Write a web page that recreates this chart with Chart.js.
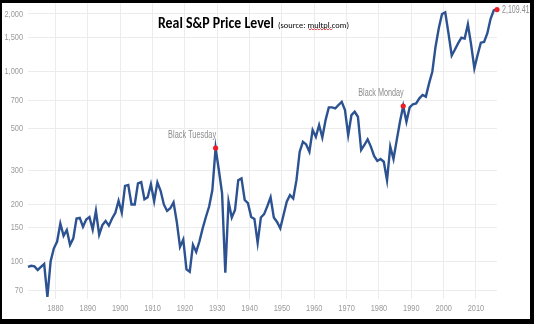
<!DOCTYPE html>
<html>
<head>
<meta charset="utf-8">
<script src="https://cdn.jsdelivr.net/npm/chart.js@4.4.1/dist/chart.umd.min.js"></script>
<style>
  html, body { margin: 0; padding: 0; background: #fff; }
  canvas { display: block; }
</style>
</head>
<body>
<canvas id="c" width="534" height="324"></canvas>
<script>
// ---- data ----
const years = [];
for (let y = 1871; y <= 2016; y++) years.push(y);

const realPrice = [
  93.5, 94.6, 94, 90, 93.5, 96.7, 65, 100, 117,            // 1871-1879
  127, 158, 136, 146, 122, 132, 168, 169, 152, 166,        // 1880-1889
  171, 147, 184, 138, 155, 163, 154, 168, 180, 208,        // 1890-1899
  180, 249, 252, 199, 199, 257, 261, 212, 217, 254,        // 1900-1909
  207, 260, 235, 199, 184, 190, 204, 161, 119, 130,        // 1910-1919
  90.6, 88, 122, 112, 127, 149, 171, 194, 237, 394,        // 1920-1929
  302, 228, 87, 206, 170, 186, 267, 273, 210, 202,         // 1930-1939
  171, 167, 125, 170, 177, 195, 217, 170, 161, 149,        // 1940-1949
  175, 206, 223, 214, 267, 377, 425, 412, 377, 490,        // 1950-1959
  452, 521, 448, 553, 645, 645, 638, 664, 690, 625,        // 1960-1969
  461, 588, 612, 576, 385, 409, 438, 401, 358, 337,        // 1970-1979
  345, 334, 267, 401, 345, 434, 542, 656, 542, 645,        // 1980-1989
  670, 677, 720, 750, 735, 863, 994, 1346, 1683, 2000,     // 1990-1999
  2040, 1582, 1210, 1300, 1405, 1500, 1485, 1765, 1380, 1036, // 2000-2009
  1216, 1413, 1425, 1580, 1880, 2090, 2109.41              // 2010-2016
];

const xTicks = [1880, 1890, 1900, 1910, 1920, 1930, 1940, 1950, 1960, 1970, 1980, 1990, 2000, 2010];
const yTicks = [70, 100, 150, 200, 300, 500, 700, 1000, 1500, 2000];

const markerYears = [1929, 1987, 2016];
const markerLabels = ['Black Tuesday', 'Black Monday', '2,109.41'];

const titleMain = 'Real S&P Price Level';
const titleSource = '(source: multpl.com)';

// ---- chart ----
const LINE = '#2c5291';
const GRID = '#ececec';
const TICKC = '#9a9a9a';
const SANS = "'Liberation Sans', Arial, Helvetica, sans-serif";
const TICK_SQUEEZE = 0.78; // the reference's text is horizontally condensed

function scaledText(ctx, text, x, y, font, color, align, targetW) {
  ctx.save();
  ctx.font = font;
  ctx.fillStyle = color;
  ctx.textBaseline = 'alphabetic';
  ctx.textAlign = 'left';
  const w = ctx.measureText(text).width;
  const sx = targetW / w;
  let left = x;
  if (align === 'right') left = x - targetW;
  if (align === 'center') left = x - targetW / 2;
  ctx.translate(left, y);
  ctx.scale(sx, 1);
  ctx.fillText(text, 0, 0);
  ctx.restore();
}

// draw axis tick labels (rendered by Chart.js) horizontally condensed around their anchor
const condenseTicks = {
  id: 'condenseTicks',
  afterLayout(chart) {
    Object.values(chart.scales).forEach(scale => {
      if (scale._condensed) return;
      scale._condensed = true;
      const orig = scale.drawLabels;
      scale.drawLabels = function (area) {
        const ctx = this.ctx;
        const origFill = ctx.fillText;
        ctx.fillText = function (t, x, y, mw) {
          this.save();
          this.translate(x, y);
          this.scale(TICK_SQUEEZE, 1);
          origFill.call(this, t, 0, 0);
          this.restore();
        };
        try { orig.call(this, area); } finally { ctx.fillText = origFill; }
      };
    });
  }
};

const overlay = {
  id: 'overlay',
  afterDraw(chart) {
    const ctx = chart.ctx;
    const xs = chart.scales.x, ys = chart.scales.y;
    // annotation labels
    markerYears.forEach((yr, i) => {
      const idx = years.indexOf(yr);
      const px = xs.getPixelForValue(yr + 0.5);
      const py = ys.getPixelForValue(realPrice[idx]);
      const f = "10px " + SANS;
      if (i < 2) {
        scaledText(ctx, markerLabels[i], px + 0.5, py - 10, f, '#8c8c8c', 'right', i === 0 ? 48 : 45.5);
      } else {
        scaledText(ctx, markerLabels[i], px + 5, py + 3.5, f, '#8c8c8c', 'left', 27.5);
      }
    });
    // title
    scaledText(ctx, titleMain, 158, 28, "bold 15px Carlito, Calibri, " + SANS, '#000', 'left', 116);
    scaledText(ctx, titleSource, 278, 27.5, "9px Carlito, Calibri, " + SANS, '#000', 'left', 71);
    // red spell-check squiggle under "multpl"
    ctx.save();
    ctx.strokeStyle = '#e0202a';
    ctx.lineWidth = 0.8;
    ctx.beginPath();
    let up = true;
    for (let x = 308.5; x <= 333; x += 1.5) {
      const yy = up ? 28.6 : 30;
      if (x === 308.5) ctx.moveTo(x, yy); else ctx.lineTo(x, yy);
      up = !up;
    }
    ctx.stroke();
    ctx.restore();
    // black frame
    ctx.save();
    ctx.fillStyle = '#000';
    ctx.fillRect(0, 0, 534, 3);
    ctx.fillRect(0, 0, 2, 324);
    ctx.fillRect(530, 0, 4, 324);
    ctx.fillRect(0, 319, 534, 5);
    ctx.restore();
  }
};

new Chart(document.getElementById('c'), {
  type: 'line',
  data: {
    datasets: [{
      data: years.map((y, i) => ({ x: y + 0.5, y: realPrice[i] })), // annual values plotted mid-year
      borderColor: LINE,
      borderWidth: 2.4,
      tension: 0,
      fill: false,
      clip: false,
      pointRadius: ctx => markerYears.includes(years[ctx.dataIndex]) ? 2.6 : 0,
      pointHoverRadius: 0,
      pointBackgroundColor: '#ee1c25',
      pointBorderWidth: 0
    }]
  },
  options: {
    responsive: false,
    animation: false,
    devicePixelRatio: 1,
    layout: { padding: { left: 0, right: 37, top: 3, bottom: 0 } },
    plugins: { legend: { display: false }, tooltip: { enabled: false }, title: { display: false } },
    scales: {
      x: {
        type: 'linear',
        min: 1871.5,
        max: 2016.5,
        afterBuildTicks: s => { s.ticks = xTicks.map(v => ({ value: v })); },
        afterFit: s => { s.height = 25; s.paddingLeft = 0; s.paddingRight = 0; },
        grid: { color: GRID, lineWidth: 1, drawTicks: false },
        border: { display: false },
        ticks: {
          autoSkip: false, maxRotation: 0, padding: 4,
          color: TICKC,
          font: { family: SANS, size: 9.5 },
          callback: v => String(v)
        }
      },
      y: {
        type: 'logarithmic',
        min: 63.3,
        max: 2285,
        afterBuildTicks: s => { s.ticks = yTicks.map(v => ({ value: v })); },
        afterFit: s => { s.width = 28; s.paddingTop = 0; s.paddingBottom = 0; },
        grid: { color: GRID, lineWidth: 1, drawTicks: false },
        border: { display: false },
        ticks: {
          autoSkip: false, padding: 5,
          color: TICKC,
          font: { family: SANS, size: 9.5 },
          callback: v => Number(v).toLocaleString('en-US')
        }
      }
    }
  },
  plugins: [condenseTicks, overlay]
});
</script>
</body>
</html>
